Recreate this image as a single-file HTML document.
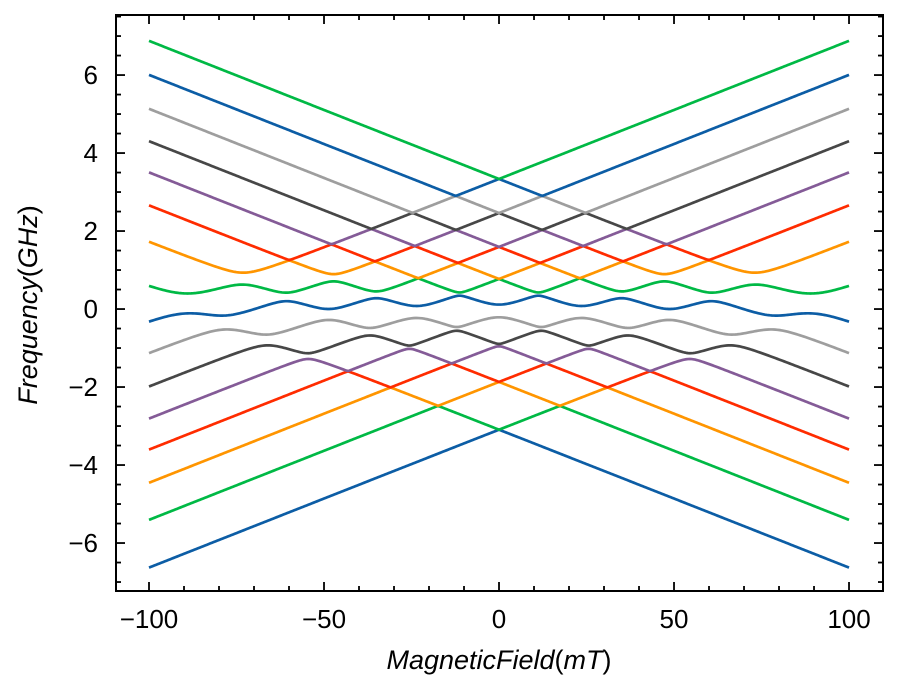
<!DOCTYPE html>
<html>
<head>
<meta charset="utf-8">
<style>
  html, body { margin: 0; padding: 0; background: #fff; }
  svg { display: block; font-family: "Liberation Sans", sans-serif; }
</style>
</head>
<body>
<svg id="chart" width="898" height="693" viewBox="0 0 898 693" xmlns="http://www.w3.org/2000/svg">
  <rect x="0" y="0" width="898" height="693" fill="#fff"/>
  <g id="lines"></g>
  <g id="ticks"></g>
  <rect x="116" y="15" width="767" height="576" fill="none" stroke="#000" stroke-width="2"/>
  <text x="499" y="669" text-anchor="middle" font-size="27"><tspan font-style="italic">MagneticField</tspan>(<tspan font-style="italic">mT</tspan>)</text>
  <text transform="translate(37,305) rotate(-90)" text-anchor="middle" font-size="27"><tspan font-style="italic">Frequency</tspan>(<tspan font-style="italic">GHz</tspan>)</text>
</svg>
<script>
// ---- data ----
const ascIntercepts = [3.32, 2.45, 1.58, 0.75, -0.05, -0.9, -1.85, -3.07];
const descIntercepts = [3.32, 2.45, 1.58, 0.75, -0.05, -0.9, -1.85, -3.07];
const ascSlope = 0.0355;
const descSlope = -0.0355;
const couplingAsc = [0, 0, 1, 1, 1, 2, 2, 2, 3, 3, 3, 3, 4, 4, 5, 4];
const couplingDesc = [6, 7, 5, 6, 7, 5, 6, 7, 4, 5, 6, 7, 5, 6, 5, 4];
const couplingStrength = [0.15, 0.27, 0.09, 0.12, 0.19, 0.09, 0.15, 0.14, 0.04, 0.16, 0.1, 0.07, 0.05, 0.04, 0.03, 0.165];
const fieldMin = -100;
const fieldMax = 100;
const xTicks = [-100, -50, 0, 50, 100];
const xTickLabels = ["\u2212100", "\u221250", "0", "50", "100"];
const yTicks = [-6, -4, -2, 0, 2, 4, 6];
const yTickLabels = ["\u22126", "\u22124", "\u22122", "0", "2", "4", "6"];
const colors = ["#0C5DA5", "#00B945", "#FF9500", "#FF2C00", "#845B97", "#474747", "#9e9e9e"];

// ---- axes ----
const X0 = 116, X1 = 883, Y0 = 15, Y1 = 591;
const xDomain = [-109.43, 109.71];
const yDomain = [-7.23, 7.54];
function xs(v) { return X0 + (v - xDomain[0]) / (xDomain[1] - xDomain[0]) * (X1 - X0); }
function ys(v) { return Y1 - (v - yDomain[0]) / (yDomain[1] - yDomain[0]) * (Y1 - Y0); }

const NS = "http://www.w3.org/2000/svg";
function mk(tag, attrs) {
  const e = document.createElementNS(NS, tag);
  for (const k in attrs) e.setAttribute(k, attrs[k]);
  return e;
}

// ---- eigenvalues (Jacobi) ----
function eigenvalues(a, n) {
  for (let sweep = 0; sweep < 60; sweep++) {
    let off = 0;
    for (let p = 0; p < n; p++) for (let q = p + 1; q < n; q++) off += a[p][q] * a[p][q];
    if (off < 1e-16) break;
    for (let p = 0; p < n; p++) {
      for (let q = p + 1; q < n; q++) {
        if (Math.abs(a[p][q]) < 1e-15) continue;
        const theta = (a[q][q] - a[p][p]) / (2 * a[p][q]);
        const sg = theta >= 0 ? 1 : -1;
        const t = sg / (Math.abs(theta) + Math.sqrt(theta * theta + 1));
        const c = 1 / Math.sqrt(t * t + 1), s = t * c;
        for (let k = 0; k < n; k++) {
          const akp = a[k][p], akq = a[k][q];
          a[k][p] = c * akp - s * akq;
          a[k][q] = s * akp + c * akq;
        }
        for (let k = 0; k < n; k++) {
          const apk = a[p][k], aqk = a[q][k];
          a[p][k] = c * apk - s * aqk;
          a[q][k] = s * apk + c * aqk;
        }
      }
    }
  }
  const out = [];
  for (let i = 0; i < n; i++) out.push(a[i][i]);
  return out.sort((u, v) => u - v);
}

function levelsAt(B) {
  const na = ascIntercepts.length, nd = descIntercepts.length, n = na + nd;
  const H = [];
  for (let i = 0; i < n; i++) { H.push(new Array(n).fill(0)); }
  for (let k = 0; k < na; k++) H[k][k] = ascIntercepts[k] + ascSlope * B;
  for (let j = 0; j < nd; j++) H[na + j][na + j] = descIntercepts[j] + descSlope * B;
  for (let i = 0; i < couplingAsc.length; i++) {
    const k = couplingAsc[i], j = couplingDesc[i], g = couplingStrength[i];
    H[k][na + j] = g; H[na + j][k] = g;
    if (k !== j) { H[j][na + k] = g; H[na + k][j] = g; }
  }
  return eigenvalues(H, n);
}

// ---- draw series ----
const linesG = document.getElementById("lines");
const N = ascIntercepts.length + descIntercepts.length;
const pts = [];
for (let i = 0; i < N; i++) pts.push([]);
const steps = 400;
for (let s = 0; s <= steps; s++) {
  const B = fieldMin + (fieldMax - fieldMin) * s / steps;
  const ev = levelsAt(B);
  for (let i = 0; i < N; i++) pts[i].push(xs(B).toFixed(2) + "," + ys(ev[i]).toFixed(2));
}
for (let i = 0; i < N; i++) {
  const p = mk("polyline", { points: pts[i].join(" "), fill: "none", stroke: colors[i % colors.length], "stroke-width": 2.7, "stroke-linejoin": "round" });
  
  
  linesG.appendChild(p);
}

// ---- ticks ----
const tg = document.getElementById("ticks");
function line(x1, y1, x2, y2, name) {
  const l = mk("line", { x1: x1, y1: y1, x2: x2, y2: y2, stroke: "#000", "stroke-width": 1.8 });
  
  
  tg.appendChild(l);
}
for (let v = -100; v <= 100; v += 10) {
  const major = v % 50 === 0;
  const L = major ? 9 : 5;
  const x = xs(v);
  line(x, Y1, x, Y1 - L, major ? 'x-major-tick' : 'x-minor-tick');
  line(x, Y0, x, Y0 + L, major ? 'x-top-major-tick' : 'x-top-minor-tick');
}
for (let k = -14; k <= 15; k++) {
  const v = k * 0.5;
  if (v < yDomain[0] || v > yDomain[1]) continue;
  const major = k % 4 === 0;
  const L = major ? 9 : 5;
  const y = ys(v);
  line(X0, y, X0 + L, y, major ? 'y-major-tick' : 'y-minor-tick');
  line(X1, y, X1 - L, y, major ? 'y-right-major-tick' : 'y-right-minor-tick');
}
for (let i = 0; i < xTicks.length; i++) {
  const t = mk("text", { x: xs(xTicks[i]), y: 628, "text-anchor": "middle", "font-size": 26 });
  t.textContent = xTickLabels[i];
  
  
  tg.appendChild(t);
}
for (let i = 0; i < yTicks.length; i++) {
  const t = mk("text", { x: 98, y: ys(yTicks[i]) + 9, "text-anchor": "end", "font-size": 26 });
  t.textContent = yTickLabels[i];
  
  
  tg.appendChild(t);
}
</script>
</body>
</html>
